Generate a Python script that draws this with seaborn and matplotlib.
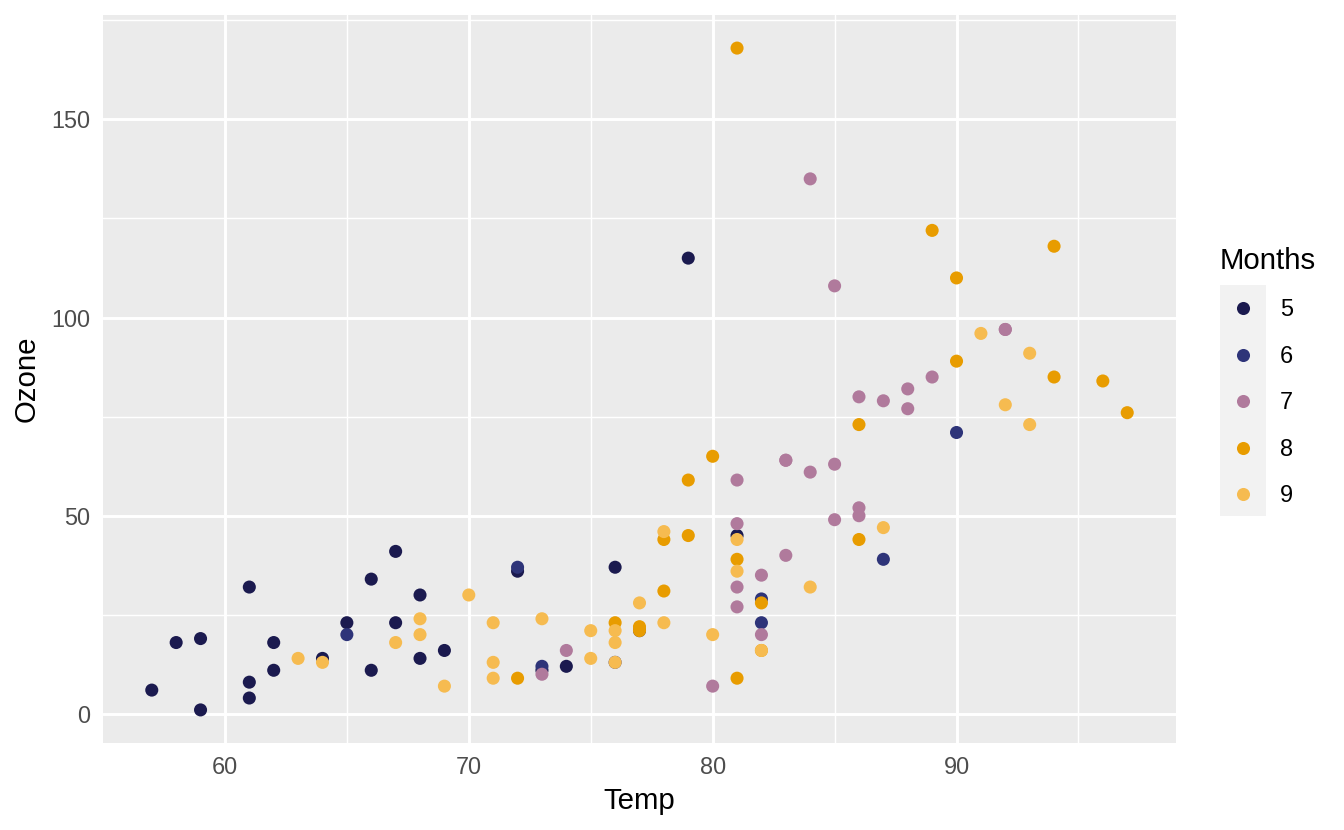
import matplotlib
matplotlib.use("Agg")
import matplotlib.pyplot as plt
import seaborn as sns
import pandas as pd
from matplotlib.patches import Rectangle
from matplotlib.lines import Line2D

# airquality (complete cases): Temp / Ozone by month
temp_5 = [67, 72, 74, 62, 65, 59, 61, 69, 66, 68, 58, 64, 66, 57, 68, 62, 59, 73, 61, 61, 67, 81, 79, 76]
ozone_5 = [41, 36, 12, 18, 23, 19, 8, 16, 11, 14, 18, 14, 34, 6, 30, 11, 1, 11, 4, 32, 23, 45, 115, 37]
temp_6 = [82, 90, 87, 82, 77, 72, 65, 73, 76]
ozone_6 = [29, 71, 39, 23, 21, 37, 20, 12, 13]
temp_7 = [84, 85, 81, 83, 83, 88, 92, 92, 89, 73, 81, 80, 81, 82, 84, 87, 85, 74, 86, 85, 82, 86, 88, 86, 83, 81]
ozone_7 = [135, 49, 32, 64, 40, 77, 97, 97, 85, 10, 27, 7, 48, 35, 61, 79, 63, 16, 80, 108, 20, 52, 82, 50, 64, 59]
temp_8 = [81, 81, 82, 89, 90, 90, 86, 82, 80, 77, 79, 76, 78, 78, 77, 72, 79, 81, 86, 97, 94, 96, 94]
ozone_8 = [39, 9, 16, 122, 89, 110, 44, 28, 65, 22, 59, 23, 31, 44, 21, 9, 45, 168, 73, 76, 118, 84, 85]
temp_9 = [91, 92, 93, 93, 87, 84, 80, 78, 75, 73, 81, 76, 77, 71, 71, 78, 67, 76, 68, 82, 64, 71, 81, 69, 63, 70, 75, 76, 68]
ozone_9 = [96, 78, 73, 91, 47, 32, 20, 23, 21, 24, 44, 21, 28, 9, 13, 46, 18, 13, 24, 16, 13, 23, 36, 7, 14, 30, 14, 18, 20]

months = ["5", "6", "7", "8", "9"]
colors = ["#1b1a4f", "#2e3479", "#b07a9c", "#e89c00", "#f6bb50"]

x_breaks = [60, 70, 80, 90]
x_minor = [65, 75, 85, 95]
y_breaks = [0, 50, 100, 150]
y_minor = [25, 75, 125, 175]

temps = [temp_5, temp_6, temp_7, temp_8, temp_9]
ozones = [ozone_5, ozone_6, ozone_7, ozone_8, ozone_9]
df = pd.concat([pd.DataFrame({"Temp": t, "Ozone": o, "Month": m})
                for t, o, m in zip(temps, ozones, months)], ignore_index=True)

sns.set_theme(style="white")
plt.rcParams["font.family"] = ["Liberation Sans", "DejaVu Sans"]

W, H, DPI = 1344, 830, 192
fig = plt.figure(figsize=(W / DPI, H / DPI), dpi=DPI)
ax = fig.add_axes([103 / W, 1 - 743 / H, (1176 - 103) / W, (743 - 15) / H])

sns.scatterplot(data=df, x="Temp", y="Ozone", hue="Month", hue_order=months,
                palette=colors, s=24, linewidth=0, alpha=1, ax=ax, legend=False)

tx, ox = df["Temp"], df["Ozone"]
xr = tx.max() - tx.min()
yr = ox.max() - ox.min()
ax.set_xlim(tx.min() - 0.05 * xr, tx.max() + 0.05 * xr)
ax.set_ylim(ox.min() - 0.05 * yr, ox.max() + 0.05 * yr)

ax.set_facecolor("#EBEBEB")
for s in ax.spines.values():
    s.set_visible(False)
ax.set_xticks(x_breaks)
ax.set_yticks(y_breaks)
ax.set_xticks(x_minor, minor=True)
ax.set_yticks(y_minor, minor=True)
ax.grid(which="major", color="white", linewidth=1.1)
ax.grid(which="minor", color="white", linewidth=0.55)
ax.set_axisbelow(True)
ax.tick_params(which="major", length=2.75, width=1.07, color="#333333",
               labelcolor="#4D4D4D", labelsize=8.8, pad=2.2)
ax.tick_params(which="minor", length=0)
ax.set_xlabel("Temp", fontsize=11, color="black", labelpad=3)
ax.set_ylabel("Ozone", fontsize=11, color="black", labelpad=4)

# legend
handles = [Line2D([], [], linestyle="none", marker="o", markersize=4.9,
                  markerfacecolor=c, markeredgewidth=0) for c in colors]
fs = 8.8 * DPI / 72
leg = ax.legend(handles, months, title="Months", loc="upper left",
                bbox_to_anchor=(1220 / W, 1 - 247 / H), bbox_transform=fig.transFigure,
                frameon=False, fontsize=8.8, title_fontsize=11, borderpad=0,
                handlelength=46 / fs, handletextpad=14 / fs, labelspacing=1.0,
                alignment="left", borderaxespad=0)
leg.get_title().set_color("black")
for t in leg.get_texts():
    t.set_color("black")
fig.add_artist(Rectangle((1220 / W, 1 - 516 / H), 46 / W, 231 / H,
                         transform=fig.transFigure, facecolor="#F2F2F2",
                         edgecolor="none", zorder=0))

fig.savefig("out.png", dpi=DPI, facecolor="white")
